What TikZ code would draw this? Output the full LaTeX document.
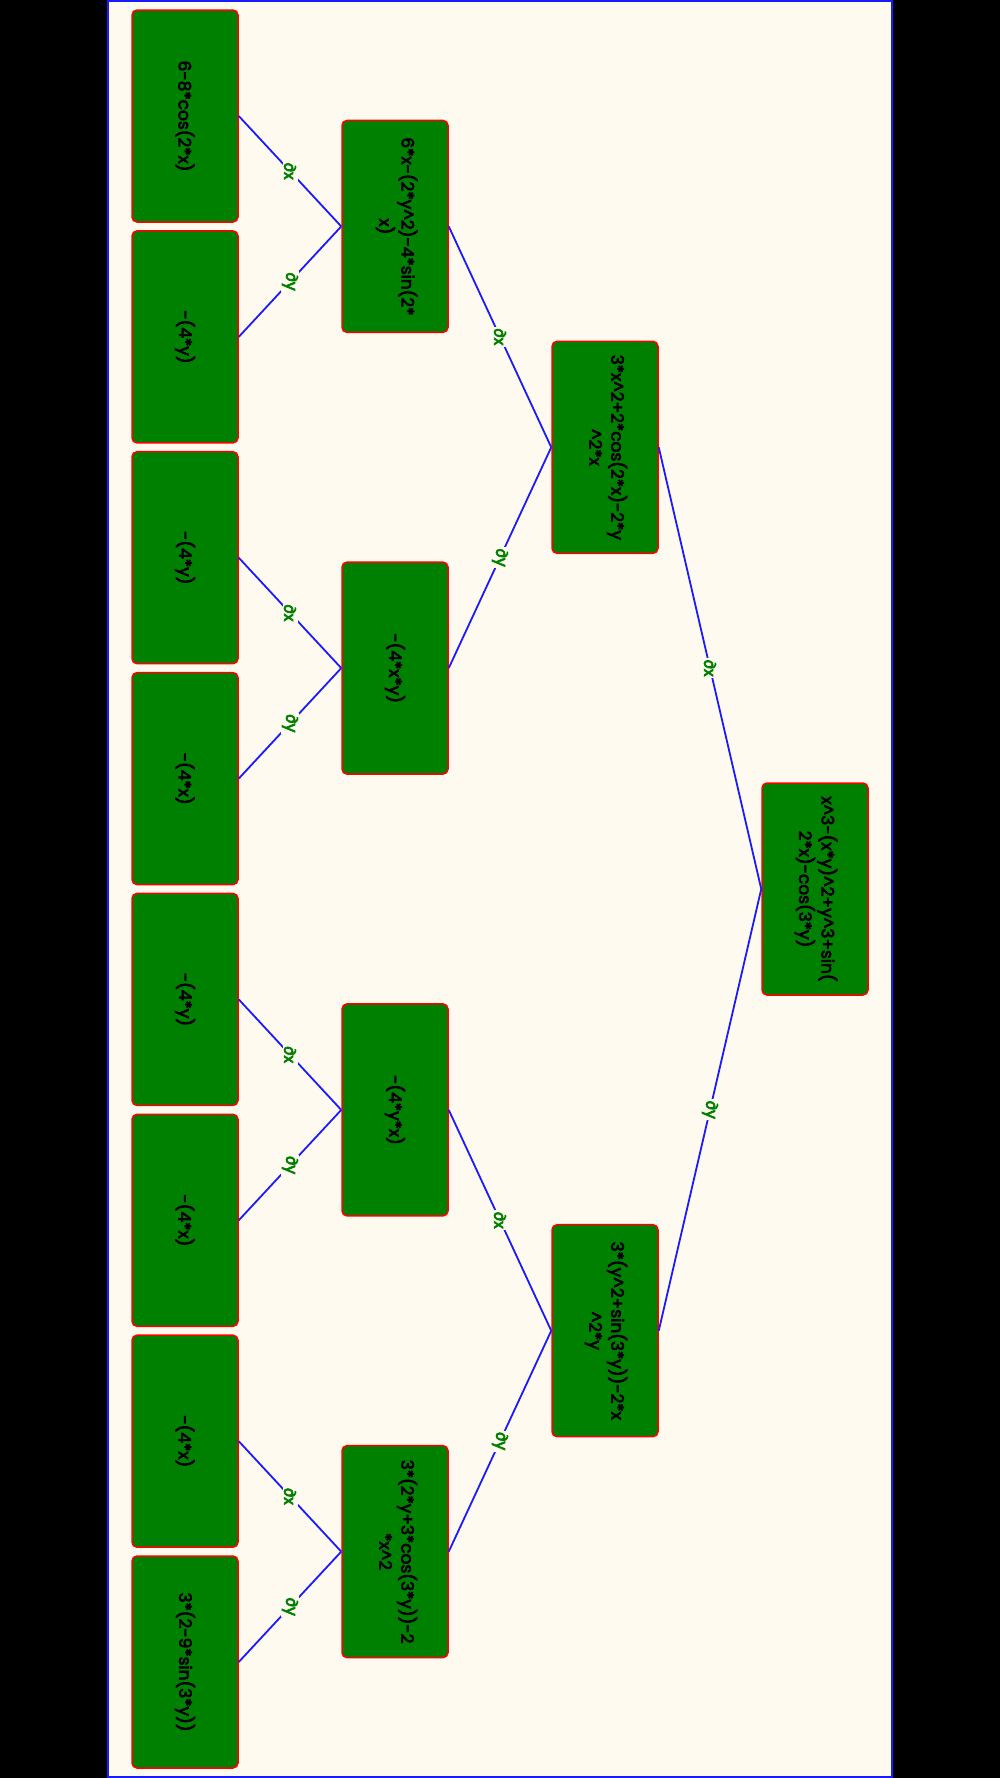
\documentclass[tikz,border=0pt]{standalone}
\usepackage{fontspec}
\setmainfont{Poppins}
\usepackage{graphicx}
\definecolor{cream}{HTML}{FFFAF0}
\definecolor{nodegreen}{HTML}{008000}
\definecolor{edgeblue}{HTML}{1A1AFF}
\newcommand{\heavy}[1]{\special{pdf:literal direct 2 Tr 0.7 w}#1\special{pdf:literal direct 0 Tr}}
\newcommand{\rtext}[1]{\rotatebox[origin=c]{-90}{\heavy{#1}}}
\newcommand{\rtwo}[2]{\rotatebox[origin=c]{-90}{\begin{tabular}{@{}c@{}}\heavy{#1}\\\heavy{#2}\end{tabular}}}
\newcommand{\crt}{\textasciicircum}
\tikzset{
  tbox/.style={rectangle, rounded corners=5pt, draw=red, line width=1.5pt, fill=nodegreen,
    minimum width=106pt, minimum height=212pt, inner sep=0pt, text=black,
    font=\fontsize{17}{22}\selectfont},
  edgeline/.style={draw=edgeblue, line width=1.8pt},
  lbl/.style={midway, fill=cream, inner sep=1.5pt, text=nodegreen, font=\fontsize{16}{16}\selectfont}
}
\begin{document}
\begin{tikzpicture}[x=1pt,y=-1pt]
\useasboundingbox (0,0) rectangle (1000,1778);
\fill[black] (0,0) rectangle (1000,1778);
\draw[edgeblue, line width=2pt, fill=cream] (108,1) rectangle (892,1777);
% leaves
\node[tbox] (l1) at (185,116) {\rtext{6-8*cos(2*x)}};
\node[tbox] (l2) at (185,336.9) {\rtext{-(4*y)}};
\node[tbox] (l3) at (185,557.7) {\rtext{-(4*y)}};
\node[tbox] (l4) at (185,778.6) {\rtext{-(4*x)}};
\node[tbox] (l5) at (185,999.4) {\rtext{-(4*y)}};
\node[tbox] (l6) at (185,1220.3) {\rtext{-(4*x)}};
\node[tbox] (l7) at (185,1441.2) {\rtext{-(4*x)}};
\node[tbox] (l8) at (185,1662) {\rtext{3*(2-9*sin(3*y))}};
% level 2
\node[tbox] (m1) at (395,226.4) {\rtwo{6*x-(2*y\crt2)-4*sin(2*}{x)}};
\node[tbox] (m2) at (395,668.1) {\rtext{-(4*x*y)}};
\node[tbox] (m3) at (395,1109.9) {\rtext{-(4*y*x)}};
\node[tbox] (m4) at (395,1551.6) {\rtwo{3*(2*y+3*cos(3*y))-2}{*x\crt2}};
% level 3
\node[tbox] (n1) at (605,447.3) {\rtwo{3*x\crt2+2*cos(2*x)-2*y}{\crt2*x}};
\node[tbox] (n2) at (605,1330.7) {\rtwo{3*(y\crt2+sin(3*y))-2*x}{\crt2*y}};
% root
\node[tbox] (r) at (815,889) {\rtwo{x\crt3-(x*y)\crt2+y\crt3+sin(}{2*x)-cos(3*y)}};
% edges
\draw[edgeline] (l1.east) -- node[lbl]{\rtext{∂x}} (m1.west);
\draw[edgeline] (l2.east) -- node[lbl]{\rtext{∂y}} (m1.west);
\draw[edgeline] (l3.east) -- node[lbl]{\rtext{∂x}} (m2.west);
\draw[edgeline] (l4.east) -- node[lbl]{\rtext{∂y}} (m2.west);
\draw[edgeline] (l5.east) -- node[lbl]{\rtext{∂x}} (m3.west);
\draw[edgeline] (l6.east) -- node[lbl]{\rtext{∂y}} (m3.west);
\draw[edgeline] (l7.east) -- node[lbl]{\rtext{∂x}} (m4.west);
\draw[edgeline] (l8.east) -- node[lbl]{\rtext{∂y}} (m4.west);
\draw[edgeline] (m1.east) -- node[lbl]{\rtext{∂x}} (n1.west);
\draw[edgeline] (m2.east) -- node[lbl]{\rtext{∂y}} (n1.west);
\draw[edgeline] (m3.east) -- node[lbl]{\rtext{∂x}} (n2.west);
\draw[edgeline] (m4.east) -- node[lbl]{\rtext{∂y}} (n2.west);
\draw[edgeline] (n1.east) -- node[lbl]{\rtext{∂x}} (r.west);
\draw[edgeline] (n2.east) -- node[lbl]{\rtext{∂y}} (r.west);
\end{tikzpicture}
\end{document}
